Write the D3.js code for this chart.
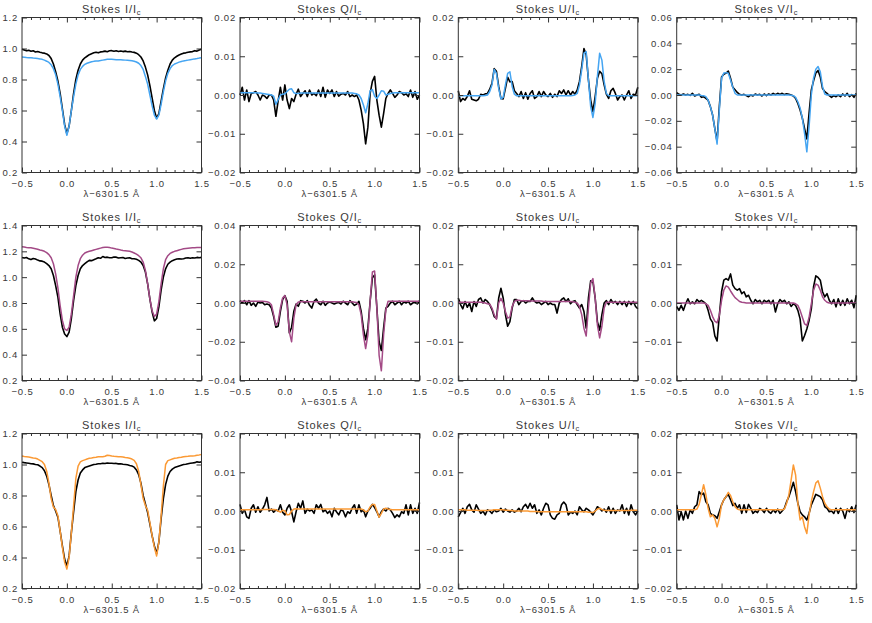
<!DOCTYPE html>
<html><head><meta charset="utf-8">
<script src="https://cdn.jsdelivr.net/npm/d3@7"></script>
<style>
body{margin:0;background:#fff}
svg text{font-family:"Liberation Sans",Arial,Helvetica,sans-serif;fill:#383838}
</style>
</head><body>
<svg id="chart" width="872" height="623"></svg>
<script>
// wavelength offset from 6301.5 Å
const wavelength = [-0.5,-0.475,-0.45,-0.425,-0.4,-0.375,-0.35,-0.325,-0.3,-0.275,
-0.25,-0.225,-0.2,-0.175,-0.15,-0.125,-0.1,-0.075,-0.05,-0.025,
0,0.025,0.05,0.075,0.1,0.125,0.15,0.175,0.2,0.225,
0.25,0.275,0.3,0.325,0.35,0.375,0.4,0.425,0.45,0.475,
0.5,0.525,0.55,0.575,0.6,0.625,0.65,0.675,0.7,0.725,
0.75,0.775,0.8,0.825,0.85,0.875,0.9,0.925,0.95,0.975,
1,1.025,1.05,1.075,1.1,1.125,1.15,1.175,1.2,1.225,
1.25,1.275,1.3,1.325,1.35,1.375,1.4,1.425,1.45,1.475,
1.5];

// ---------- Row 1 (observed = black, model = blue) ----------
const iObs1 = [0.995,0.99,0.985,0.988,0.982,0.985,0.978,0.981,0.976,0.972,
0.97,0.965,0.955,0.935,0.9,0.85,0.79,0.71,0.61,0.51,
0.45,0.5,0.6,0.71,0.8,0.86,0.9,0.925,0.94,0.95,
0.96,0.966,0.972,0.976,0.972,0.978,0.98,0.983,0.979,0.985,
0.986,0.982,0.985,0.981,0.984,0.98,0.983,0.979,0.981,0.977,
0.975,0.97,0.96,0.945,0.92,0.88,0.83,0.76,0.68,0.6,
0.55,0.58,0.66,0.74,0.81,0.86,0.9,0.925,0.94,0.95,
0.958,0.964,0.97,0.972,0.976,0.978,0.98,0.986,0.983,0.99,
0.995];
const iMod1 = [0.945,0.944,0.942,0.941,0.94,0.938,0.937,0.935,0.933,0.93,
0.925,0.918,0.91,0.895,0.87,0.83,0.77,0.69,0.6,0.5,
0.44,0.5,0.6,0.69,0.77,0.83,0.865,0.885,0.898,0.905,
0.91,0.914,0.917,0.919,0.92,0.922,0.925,0.928,0.93,0.931,
0.93,0.929,0.928,0.927,0.927,0.926,0.925,0.924,0.923,0.921,
0.918,0.913,0.905,0.89,0.865,0.82,0.77,0.7,0.63,0.57,
0.545,0.57,0.64,0.72,0.79,0.84,0.87,0.89,0.9,0.906,
0.912,0.916,0.92,0.922,0.925,0.928,0.93,0.933,0.935,0.938,
0.94];
const qObs1 = [0,.002,-.0013,.0013,-.0017,.0004,.0006,.0009,0,-.0013,
0,-.0003,-.0009,0,0,-.0013,-.0055,-.0015,.002,-.0013,
.0026,-.0013,-.0035,-.0009,-.0017,.0002,.0015,-.0004,.0004,.0011,
-.0004,.0013,0,.0004,-.0002,.0013,-.0004,.002,-.0006,.0013,
.0004,.0013,-.0004,.0009,-.0003,.0002,.0004,0,.0009,-.0004,
0,-.0004,0,-.0013,-.0039,-.0074,-.0126,-.0083,.0004,.0035,
.0048,-.0013,-.0052,-.0083,-.0048,-.0009,.0004,.0013,.0004,-.0006,
0,.0009,.0006,0,.0003,-.0004,.0013,-.0006,.0009,-.0011,
0];
const qMod1 = [.0006,.0006,.0006,.0006,.0006,.0006,.0006,.0006,.0005,.0005,
.0004,.0003,.0002,.0001,0,-.0003,-.0024,-.0012,0,.0002,
.0003,.0009,.0015,.0016,.0006,.0004,.0004,.0005,.0005,.0005,
.0005,.0005,.0005,.0005,.0005,.0005,.0005,.0005,.0005,.0005,
.0005,.0005,.0005,.0005,.0005,.0005,.0005,.0005,.0005,.0005,
.0005,.0004,.0003,0,-.0009,-.0026,-.0046,-.0022,.0011,.0014,
-.0003,-.0009,0,.0011,.001,0,.0002,.0004,.0005,.0006,
.0006,.0006,.0006,.0006,.0006,.0006,.0006,.0006,.0006,.0006,
.0006];
const uObs1 = [.0011,-.0017,-.0009,-.0013,-.0004,.0011,-.0011,-.0013,-.0015,-.0011,
.0002,0,.0003,.0004,.0015,.003,.0068,.0061,.0022,-.0009,
-.001,.0017,.0046,.0034,.0035,.0011,.0004,-.0004,.0009,-.0009,
.0006,-.0011,.0004,.0011,-.0009,-.0004,.0009,-.0004,.0009,0,
-.0004,.0004,-.0006,.0002,-.0004,.0011,.0004,.0013,0,.0011,
0,.0009,.0002,.0013,.0035,.0074,.012,.0104,.0039,-.0013,
-.0043,-.0004,.0043,.0061,.0055,.0026,.0002,-.0009,.0011,.0017,
.0004,-.0013,-.0004,0,-.0013,0,.0011,-.0009,.0002,0,
.002];
const uMod1 = [-.0002,-.0002,-.0002,-.0002,-.0002,-.0002,-.0002,-.0002,-.0002,-.0002,
-.0002,-.0002,-.0001,0,.0009,.0026,.0066,.0056,.0017,-.001,
-.0006,.0026,.0056,.006,.0022,.0002,-.0002,-.0002,-.0002,-.0002,
-.0002,-.0002,-.0002,-.0002,-.0002,-.0002,-.0002,-.0002,-.0002,-.0002,
-.0002,-.0002,-.0002,-.0002,-.0002,-.0002,-.0002,-.0002,-.0002,-.0002,
-.0002,-.0001,0,.0004,.0026,.0065,.0108,.0112,.0039,-.003,
-.0058,-.0022,.0048,.0108,.009,.0035,.0004,-.0002,-.0002,-.0002,
-.0002,-.0002,-.0002,-.0002,-.0002,-.0002,-.0002,-.0002,-.0002,-.0002,
-.0002];
const vObs1 = [.0018,.0005,0,.0008,0,.0005,-.0003,.0013,-.0008,0,
.0005,-.0018,-.0013,-.0026,-.004,-.009,-.0155,-.026,-.036,-.009,
.014,.016,.017,.0185,.013,.006,.004,.002,.0005,0,
.0005,-.0005,-.0013,0,-.0008,.0008,0,.0005,-.0008,.0008,
-.0005,.0008,0,.0013,.0003,.0013,.0005,.0013,.0003,.001,
.0005,0,-.0008,-.0026,-.0065,-.0116,-.018,-.026,-.034,-.014,
.004,.011,.017,.019,.014,.005,.0026,.0013,-.0005,-.0018,
-.0005,-.0013,0,-.0013,.0008,-.0008,.0013,-.0013,.0003,-.0018,
.0013];
const vMod1 = [0,0,0,0,0,0,0,0,0,0,
0,-.0003,-.0005,-.0013,-.004,-.009,-.0155,-.026,-.038,-.0116,
.013,.017,.0173,.0168,.0116,.006,.0013,0,0,0,
0,0,0,0,0,0,0,0,0,0,
0,0,0,0,0,0,0,0,0,0,
0,-.0002,-.0005,-.0018,-.0052,-.01,-.018,-.03,-.044,-.0245,
0,.013,.02,.022,.018,.0065,.0008,0,0,0,
0,0,0,0,0,0,0,0,0,0,
0];

// ---------- Row 2 (observed = black, model = purple) ----------
const iObs2 = [1.153,1.148,1.152,1.142,1.136,1.144,1.14,1.132,1.126,1.124,
1.117,1.105,1.09,1.065,1.013,0.935,0.845,0.715,0.613,0.56,
0.54,0.575,0.68,0.82,0.935,1.013,1.065,1.09,1.104,1.118,
1.13,1.128,1.135,1.142,1.15,1.146,1.16,1.152,1.155,1.15,
1.15,1.156,1.155,1.148,1.15,1.152,1.145,1.148,1.15,1.143,
1.143,1.138,1.13,1.117,1.09,1.04,0.948,0.83,0.73,0.662,
0.68,0.77,0.9,1.0,1.065,1.1,1.117,1.128,1.135,1.14,
1.143,1.14,1.143,1.148,1.15,1.146,1.15,1.148,1.153,1.15,
1.153];
const iMod2 = [1.236,1.233,1.23,1.228,1.227,1.224,1.22,1.216,1.21,1.206,
1.2,1.19,1.175,1.15,1.104,1.026,0.917,0.78,0.665,0.6,
0.587,0.613,0.715,0.857,1.0,1.09,1.143,1.17,1.187,1.195,
1.2,1.205,1.21,1.215,1.22,1.225,1.23,1.232,1.232,1.23,
1.225,1.222,1.218,1.215,1.21,1.207,1.205,1.203,1.2,1.195,
1.187,1.178,1.166,1.15,1.117,1.052,0.948,0.83,0.74,0.695,
0.715,0.81,0.948,1.065,1.135,1.166,1.184,1.193,1.2,1.205,
1.21,1.215,1.22,1.222,1.224,1.226,1.227,1.228,1.23,1.23,
1.23];
const qObs2 = [.0012,0,.0012,-.0009,.0012,-.0012,0,-.0017,.0005,0,
.0003,-.0009,-.0005,-.0009,-.0026,-.007,-.0125,-.012,-.0043,.0017,
.0038,.0009,-.0155,-.0125,-.0043,-.0005,-.0017,.0012,.0009,0,
.0012,-.0012,-.0026,.0009,.002,0,-.0009,.0009,-.0012,0,
.0005,0,-.0005,0,.0003,-.0005,.0009,0,-.0009,.0012,
0,-.0012,-.0005,.0009,-.0043,-.013,-.019,-.013,.0009,.013,
.0145,-.0026,-.02,-.0245,-.013,-.0026,-.0017,0,.0009,-.0009,
0,.0009,-.0009,.0005,0,.0009,-.0009,0,.0005,-.0005,
.0012];
const qMod2 = [.0009,.0009,.0009,.0009,.0009,.0009,.0009,.0009,.0009,.0009,
.0009,.0008,.0006,.0003,-.0009,-.006,-.0115,-.0096,-.0026,.0026,
.0038,-.0009,-.015,-.02,-.0078,-.0009,.0005,.0006,.0006,.0006,
.0006,.0006,.0006,.0006,.0006,.0006,.0006,.0006,.0006,.0006,
.0006,.0006,.0006,.0006,.0006,.0006,.0006,.0006,.0006,.0006,
.0006,.0004,.0002,-.0009,-.006,-.0165,-.0235,-.0165,.0009,.016,
.0165,-.0026,-.027,-.035,-.0165,-.0035,.0009,.0009,.0009,.0009,
.0009,.0009,.0009,.0009,.0009,.0009,.0009,.0009,.0009,.0009,
.0009];
const uObs2 = [.0013,-.0004,-.0015,.0004,-.0011,0,-.0022,.0004,-.0009,.0009,
.0013,0,.0009,.0004,-.0004,-.0017,-.0035,-.004,.0013,.0038,
.0013,-.003,-.006,-.0048,-.0013,.0009,.0009,-.0004,.0004,.0006,
0,.0004,.0004,.0013,.0004,0,.0002,-.0004,0,.0004,
-.0004,0,-.0004,-.0004,-.0026,0,.0009,.0013,.0004,.0011,
-.0002,.0004,.0006,-.0004,-.0013,-.0004,-.0022,-.0065,.0013,.0057,
.0055,.0013,-.0048,-.007,-.003,0,.0006,-.0004,.0009,0,
.0004,-.0004,.0004,-.0004,.0004,-.0009,.0004,-.0004,.0004,-.0009,
-.0015];
const uMod2 = [.0002,.0002,.0002,.0002,.0002,.0002,.0002,.0002,.0002,.0002,
.0002,.0001,0,-.0002,-.0003,-.0013,-.003,-.0042,0,.0012,
0,-.0022,-.0039,-.0036,-.0009,.0004,.0007,.0007,.0006,.0006,
.0006,.0006,.0005,.0005,.0005,.0005,.0005,.0005,.0004,.0004,
.0004,.0004,.0004,.0004,.0004,.0004,.0004,.0004,.0004,.0004,
.0004,.0003,.0002,0,-.0009,-.003,-.0065,-.0085,-.0013,.0052,
.0063,.0013,-.0057,-.009,-.006,-.0013,.0002,.0002,.0002,.0002,
.0002,.0002,.0002,.0002,.0002,.0002,.0002,.0002,.0002,.0002,
.0002];
const vObs2 = [-.0009,-.0019,-.0006,-.0019,-.0002,.0011,-.0002,.0003,-.0002,.0009,
.0003,.0007,.0003,-.0002,-.0019,-.0041,-.005,-.0085,-.0098,-.0032,
.0029,.0059,.0063,.0059,.0075,.0046,.0037,.0033,.0037,.0024,
.0029,.0016,.002,.0007,-.0002,.0009,.0003,.0007,-.0002,.0007,
.0003,.0007,-.0002,.0007,-.0023,-.0002,.0009,.0003,.0007,-.0002,
.0003,-.0009,-.0002,-.0006,-.0019,-.0041,-.0098,-.0084,-.0067,-.0045,
-.0015,.0042,.007,.0066,.0059,.0029,.0016,.0024,.0007,-.0002,
.0009,-.001,.0011,-.0006,.0007,-.0006,.0011,-.0002,.0007,-.0012,
.002];
const vMod2 = [0,0,0,0,0,0,0,0,0,0,
0,0,0,-.0002,-.0006,-.0019,-.0035,-.0047,-.0051,-.0032,
.0007,.0033,.0044,.0041,.0031,.0022,.0014,.0009,.0004,.0002,
.0001,0,0,0,0,0,0,0,0,0,
0,0,0,0,0,0,0,0,0,0,
0,0,0,-.0002,-.0006,-.0019,-.0037,-.0054,-.0058,-.0037,
-.0002,.0033,.0049,.0046,.0033,.0016,.0007,.0002,0,0,
0,0,0,0,0,0,0,0,0,0,
0];

// ---------- Row 3 (observed = black, model = orange) ----------
const iObs3 = [1.015,1.012,1.01,1.008,1.005,1.004,1.0,0.998,0.99,0.98,
0.96,0.925,0.87,0.8,0.735,0.7,0.66,0.57,0.475,0.39,
0.345,0.41,0.56,0.695,0.825,0.9,0.945,0.965,0.98,0.985,
0.99,0.995,1.0,1.002,1.005,1.005,1.008,1.006,1.01,1.008,
1.008,1.006,1.007,1.004,1.005,1.002,1.0,0.998,0.993,0.99,
0.983,0.965,0.935,0.88,0.8,0.745,0.69,0.615,0.54,0.475,
0.425,0.5,0.65,0.78,0.87,0.925,0.955,0.97,0.98,0.985,
0.99,0.995,1.0,1.002,1.005,1.008,1.01,1.012,1.017,1.015,
1.017];
const iMod3 = [1.055,1.052,1.05,1.048,1.045,1.042,1.04,1.035,1.027,1.018,
1.0,0.957,0.88,0.78,0.725,0.71,0.67,0.57,0.465,0.37,
0.325,0.4,0.56,0.735,0.91,0.99,1.017,1.025,1.03,1.035,
1.04,1.042,1.045,1.047,1.05,1.05,1.05,1.053,1.06,1.058,
1.055,1.053,1.052,1.05,1.05,1.048,1.045,1.043,1.04,1.035,
1.027,1.005,0.957,0.87,0.78,0.735,0.705,0.625,0.54,0.465,
0.41,0.5,0.67,0.86,1.0,1.025,1.03,1.035,1.04,1.042,
1.045,1.047,1.05,1.052,1.053,1.055,1.055,1.057,1.06,1.062,
1.065];
const qObs3 = [.0017,-.0006,.0003,-.0015,-.0019,.0007,.0016,-.0003,.0011,-.0003,
.0005,.0016,.0035,0,.0005,-.0003,.0003,0,.0016,-.0003,
-.001,.0007,.0016,-.0002,-.0028,-.0002,.002,.0007,.0026,-.0006,
.0005,0,.0003,-.0006,.0016,.0007,.0017,-.0002,.0003,-.0006,
0,-.0015,.0007,-.0002,-.001,.0003,0,-.0015,-.0002,-.0006,
.0007,.0016,-.0006,.0016,-.0002,.0003,-.0015,0,.0007,.0017,
.0009,-.0002,-.0015,-.0002,.0005,0,.0007,.0003,-.0006,-.0017,
-.001,-.0015,-.0002,-.0006,.0016,-.001,.0016,-.0006,.0007,-.0006,
.0022];
const qMod3 = [.0003,.0003,.0003,.0003,.0003,.0003,.0003,.0003,.0003,.0003,
.0004,.0004,.0004,.0004,.0004,.0004,.0003,0,-.0003,.0002,
0,-.001,-.0009,0,.0005,.0006,.0005,.0005,.0005,.0005,
.0005,.0005,.0005,.0005,.0005,.0005,.0005,.0005,.0005,.0005,
.0005,.0005,.0005,.0005,.0005,.0005,.0005,.0005,.0005,.0005,
.0005,.0005,.0005,.0005,.0005,.0003,-.0002,0,.0011,.0017,
.0017,0,-.0016,-.0006,.0005,.0007,.0005,.0004,.0003,.0003,
.0003,.0003,.0003,.0003,.0003,.0003,.0003,.0003,.0003,.0003,
.0003];
const uObs3 = [-.0015,-.0004,.0007,-.0006,.0011,.0017,.0003,-.0003,.0016,.0005,
-.0006,0,-.001,.0003,0,-.0006,.0003,-.0002,0,.0007,
-.0003,.0005,0,-.0003,.0003,-.0003,0,.0007,-.0002,.0011,
.0017,.0007,.002,.0007,.0016,-.0006,.0003,-.001,.0007,.002,
.0016,-.001,-.0019,-.0021,-.001,-.0006,.0016,.0023,.0016,-.001,
-.0003,-.0006,0,-.001,.0011,.0003,-.0002,.0007,.0003,-.0003,
-.001,0,.0011,.0007,0,.0005,-.0003,.0011,-.0006,.0007,
-.0006,.0003,0,.0016,-.0006,.0007,-.001,.0016,-.0002,-.001,
0];
const uMod3 = [.0003,.0003,.0003,.0003,.0002,.0002,.0002,.0002,.0002,.0001,
.0001,.0001,.0001,.0001,.0002,.0002,.0003,.0003,.0003,.0003,
.0003,.0002,.0002,.0001,.0001,0,0,0,0,0,
0,0,-.0001,-.0001,-.0001,-.0001,-.0002,-.0002,-.0002,-.0002,
-.0002,-.0002,-.0002,-.0002,-.0002,-.0002,-.0002,-.0002,-.0002,-.0002,
-.0002,-.0002,-.0002,-.0002,-.0002,-.0002,-.0002,-.0002,-.0003,-.0003,
-.0004,0,.0005,.0007,.0004,.0002,.0001,.0001,.0001,.0001,
.0001,.0001,.0001,.0001,.0001,.0001,.0001,.0002,.0002,.0002,
.0002];
const vObs3 = [.0016,-.0023,-.0002,-.0023,0,-.0019,.0003,-.0006,.0011,.0016,
.005,.0042,.0046,.0024,.0016,-.0006,-.001,-.0012,-.0019,-.0002,
.0016,.0029,.0037,.0043,.0029,.0014,.002,.0007,.0016,-.0006,
.0016,-.0004,.0017,.0007,-.0006,0,-.0004,.0007,.0003,-.0004,
.0007,-.0002,-.0006,.0003,-.0004,.0005,-.0006,0,.0007,.0024,
.0037,.0055,.0074,.005,.002,-.0002,-.001,-.0015,-.0023,-.0006,
.0016,.0029,.0043,.004,.0037,.0029,.0011,.0007,-.0002,0,
-.0006,.0007,-.0006,.0007,0,-.0019,.0005,-.0002,.0011,-.0004,
.0016];
const vMod3 = [.0003,.0003,.0003,.0003,.0003,.0003,.0003,.0003,.0003,.0005,
.0017,.0042,.0068,.0042,.0007,-.0015,-.001,-.0019,-.0041,-.0019,
.0016,.0029,.0037,.0048,.004,.0024,.0011,.0005,.0003,.0003,
.0003,.0003,.0003,.0003,.0003,.0003,.0003,.0003,.0003,.0003,
.0003,.0003,.0003,.0003,.0003,.0003,.0003,.0003,.0005,.002,
.0042,.008,.0119,.0093,.002,-.0023,-.0015,-.0041,-.0058,-.001,
.0024,.005,.0072,.0078,.0059,.0037,.002,.0011,.0005,.0003,
.0003,.0003,.0003,.0003,.0003,.0003,.0003,.0003,.0003,.0003,
.0003];

// ---------- axes ----------
const xTicks = [-0.5, 0, 0.5, 1, 1.5];
const xMinorTicks = [-0.4,-0.3,-0.2,-0.1,0.1,0.2,0.3,0.4,0.6,0.7,0.8,0.9,1.1,1.2,1.3,1.4];
const iTicks12 = [0.2, 0.4, 0.6, 0.8, 1.0, 1.2];
const iTicks14 = [0.2, 0.4, 0.6, 0.8, 1.0, 1.2, 1.4];
const polTicks02 = [-0.02, -0.01, 0, 0.01, 0.02];
const polTicks04 = [-0.04, -0.02, 0, 0.02, 0.04];
const polTicks06 = [-0.06, -0.04, -0.02, 0, 0.02, 0.04, 0.06];
const stokesNames = ["I", "Q", "U", "V"];
const modelColors = ["#45a5f2", "#a34a86", "#fb9a35"];
const xLabel = "λ−6301.5 Å";

const panels = [
  {row:0,col:0,obs:iObs1,mod:iMod1,dom:[0.2,1.2],ticks:iTicks12,fmt:".1f"},
  {row:0,col:1,obs:qObs1,mod:qMod1,dom:[-0.02,0.02],ticks:polTicks02,fmt:".2f"},
  {row:0,col:2,obs:uObs1,mod:uMod1,dom:[-0.02,0.02],ticks:polTicks02,fmt:".2f"},
  {row:0,col:3,obs:vObs1,mod:vMod1,dom:[-0.06,0.06],ticks:polTicks06,fmt:".2f"},
  {row:1,col:0,obs:iObs2,mod:iMod2,dom:[0.2,1.4],ticks:iTicks14,fmt:".1f"},
  {row:1,col:1,obs:qObs2,mod:qMod2,dom:[-0.04,0.04],ticks:polTicks04,fmt:".2f"},
  {row:1,col:2,obs:uObs2,mod:uMod2,dom:[-0.02,0.02],ticks:polTicks02,fmt:".2f"},
  {row:1,col:3,obs:vObs2,mod:vMod2,dom:[-0.02,0.02],ticks:polTicks02,fmt:".2f"},
  {row:2,col:0,obs:iObs3,mod:iMod3,dom:[0.2,1.2],ticks:iTicks12,fmt:".1f"},
  {row:2,col:1,obs:qObs3,mod:qMod3,dom:[-0.02,0.02],ticks:polTicks02,fmt:".2f"},
  {row:2,col:2,obs:uObs3,mod:uMod3,dom:[-0.02,0.02],ticks:polTicks02,fmt:".2f"},
  {row:2,col:3,obs:vObs3,mod:vMod3,dom:[-0.02,0.02],ticks:polTicks02,fmt:".2f"}
];

// ---------- layout ----------
const colLeft = [22, 240, 458.3, 676.7];
const rowTop = [17.5, 225.5, 433.5];
const PW = 179.5, PH = 155;
const MAJ = 5, MIN = 2.5;

const svg = d3.select("#chart");

panels.forEach(p => {
  const x0 = colLeft[p.col], y0 = rowTop[p.row];
  const x = d3.scaleLinear().domain([-0.5, 1.5]).range([x0, x0 + PW]);
  const y = d3.scaleLinear().domain(p.dom).range([y0 + PH, y0]);
  const g = svg.append("g");

  const line = d3.line().x((d, i) => x(wavelength[i])).y(d => y(d));
  g.append("path").datum(p.obs).attr("d", line)
    .attr("fill", "none").attr("stroke", "#000").attr("stroke-width", 1.6)
    .attr("stroke-linejoin", "round");
  g.append("path").datum(p.mod).attr("d", line)
    .attr("fill", "none").attr("stroke", modelColors[p.row]).attr("stroke-width", 1.5)
    .attr("stroke-linejoin", "round");

  const styleAxis = sel => {
    sel.select(".domain").remove();
    sel.selectAll(".tick line").attr("stroke", "#333").attr("stroke-width", 1);
    sel.selectAll("text").attr("font-size", 9.5).attr("letter-spacing", 0.8)
      .attr("fill", "#383838").attr("font-family", '"Liberation Sans",Arial,sans-serif');
  };
  const fx = d3.format(".1f");
  const fy = d3.format(p.fmt);

  g.append("g").attr("transform", `translate(0,${y0 + PH})`)
    .call(d3.axisBottom(x).tickValues(xTicks).tickSize(-MAJ).tickPadding(7.5).tickFormat(fx))
    .call(styleAxis);
  g.append("g").attr("transform", `translate(0,${y0 + PH})`)
    .call(d3.axisBottom(x).tickValues(xMinorTicks).tickSize(-MIN).tickFormat(""))
    .call(styleAxis);
  g.append("g").attr("transform", `translate(0,${y0})`)
    .call(d3.axisTop(x).tickValues(xTicks).tickSize(-MAJ).tickFormat(""))
    .call(styleAxis);
  g.append("g").attr("transform", `translate(0,${y0})`)
    .call(d3.axisTop(x).tickValues(xMinorTicks).tickSize(-MIN).tickFormat(""))
    .call(styleAxis);
  g.append("g").attr("transform", `translate(${x0},0)`)
    .call(d3.axisLeft(y).tickValues(p.ticks).tickSize(-MAJ).tickPadding(4).tickFormat(fy))
    .call(styleAxis);
  g.append("g").attr("transform", `translate(${x0 + PW},0)`)
    .call(d3.axisRight(y).tickValues(p.ticks).tickSize(-MAJ).tickFormat(""))
    .call(styleAxis);

  g.append("rect").attr("x", x0).attr("y", y0).attr("width", PW).attr("height", PH)
    .attr("fill", "none").attr("stroke", "#333").attr("stroke-width", 1);

  const t = g.append("text").attr("x", x0 + PW / 2).attr("y", y0 - 5)
    .attr("text-anchor", "middle").attr("font-size", 11).attr("letter-spacing", 0.9);
  t.append("tspan").text(`Stokes ${stokesNames[p.col]}/I`);
  t.append("tspan").text("c").attr("font-size", 7.5).attr("dy", 2.5);

  g.append("text").attr("x", x0 + PW / 2).attr("y", y0 + PH + 24)
    .attr("text-anchor", "middle").attr("font-size", 9.5).attr("letter-spacing", 0.8)
    .text(xLabel);
});
</script>
</body></html>
